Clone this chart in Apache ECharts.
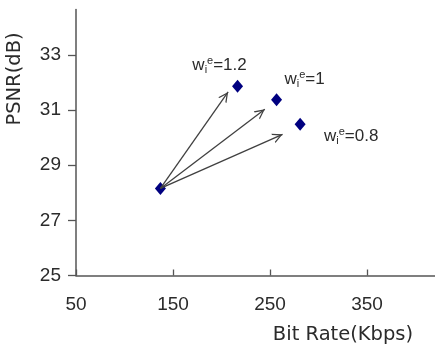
<!DOCTYPE html>
<html>
<head>
<meta charset="utf-8">
<script src="https://cdn.jsdelivr.net/npm/echarts@6/dist/echarts.min.js"></script>
<style>
  html, body { margin: 0; padding: 0; background: #fff; }
  #chart { width: 435px; height: 344px; }
</style>
</head>
<body>
<div id="chart"></div>
<script>
// Weight settings and the operating points they reach
const weightLabels = ['1.2', '1', '0.8'];
const bitRate = [216.5, 256.7, 281];
const psnr = [31.87, 31.38, 30.49];

// Starting operating point
const baseRate = 137;
const basePsnr = 28.16;

// Where each arrow stops on its way to the matching point
const arrowTipRate = [206.8, 244.6, 262.9];
const arrowTipPsnr = [31.66, 31.03, 30.12];

// Axis ticks
const xTicks = [50, 150, 250, 350];
const yTicks = [25, 27, 29, 31, 33];

// Label placement for each weight annotation (pixels from its point)
const labelOffsets = [[-18, -21], [28, -20], [51, 12]];

const textColor = '#2b2b2b';
const axisColor = '#555';
const markColor = '#000080';
const arrowColor = '#404040';

// Open chevron arrow head. The empty first subpath pads the box to 20x20
// so the tip (5,0) sits at the symbol centre, i.e. on the line end.
const chevron = 'path://M-5,-10 L15,-10 M5,0 L10,10 L8.6,10 L5,2.8 L1.4,10 L0,10 Z';

const pointData = weightLabels.map((w, i) => ({
  value: [bitRate[i], psnr[i]],
  label: {
    show: true,
    position: 'inside',
    offset: labelOffsets[i],
    formatter: '{w|w}{s|i}{e|e}{n|=' + w + '}',
    rich: {
      w: { fontSize: 17, lineHeight: 20, fontFamily: 'Liberation Sans', color: textColor, verticalAlign: 'middle' },
      s: { fontSize: 11, lineHeight: 11, fontFamily: 'Liberation Sans', color: textColor, verticalAlign: 'bottom' },
      e: { fontSize: 11, lineHeight: 13, fontFamily: 'Liberation Sans', color: textColor, verticalAlign: 'top' },
      n: { fontSize: 17, lineHeight: 20, fontFamily: 'Liberation Sans', color: textColor, verticalAlign: 'middle' }
    }
  }
}));
pointData.push({ value: [baseRate, basePsnr] });

const arrows = weightLabels.map((w, i) => ([
  { coord: [baseRate, basePsnr], symbol: 'none' },
  { coord: [arrowTipRate[i], arrowTipPsnr[i]], symbol: chevron }
]));

const chart = echarts.init(document.getElementById('chart'), null, { renderer: 'canvas' });
chart.setOption({
  animation: false,
  backgroundColor: '#fff',
  grid: { left: 76, right: 0, top: 9.5, bottom: 68.5, outerBoundsMode: 'none' },
  xAxis: {
    type: 'value',
    min: 50,
    max: 420,
    axisLine: { show: true, lineStyle: { color: axisColor, width: 1.5 } },
    axisTick: { show: true, inside: true, length: 6, customValues: xTicks, lineStyle: { color: axisColor, width: 1.3 } },
    axisLabel: { customValues: xTicks, margin: 20, fontSize: 19, fontFamily: 'Liberation Sans', color: textColor },
    splitLine: { show: false }
  },
  yAxis: {
    type: 'value',
    min: 25,
    max: 34.65,
    axisLine: { show: true, lineStyle: { color: axisColor, width: 1.5 } },
    axisTick: { show: true, inside: false, length: 8, customValues: yTicks, lineStyle: { color: axisColor, width: 1.3 } },
    axisLabel: { customValues: yTicks, margin: 15, fontSize: 19, fontFamily: 'Liberation Sans', color: textColor },
    splitLine: { show: false }
  },
  graphic: [
    {
      type: 'text',
      x: 14.5, y: 79,
      rotation: Math.PI / 2,
      style: { text: 'PSNR(dB)', fontSize: 19.5, fontFamily: 'DejaVu Sans', fill: textColor, align: 'center', verticalAlign: 'middle' }
    },
    {
      type: 'text',
      x: 343, y: 334.5,
      style: { text: 'Bit Rate(Kbps)', fontSize: 19.5, fontFamily: 'DejaVu Sans', fill: textColor, align: 'center', verticalAlign: 'middle' }
    }
  ],
  series: [{
    type: 'scatter',
    symbol: 'diamond',
    symbolSize: [11, 13],
    itemStyle: { color: markColor, opacity: 1 },
    data: pointData,
    z: 3,
    markLine: {
      silent: true,
      symbol: ['none', chevron],
      symbolSize: 20,
      label: { show: false },
      lineStyle: { type: 'solid', color: arrowColor, width: 1.3 },
      emphasis: { disabled: true },
      data: arrows
    }
  }]
});
</script>
</body>
</html>
